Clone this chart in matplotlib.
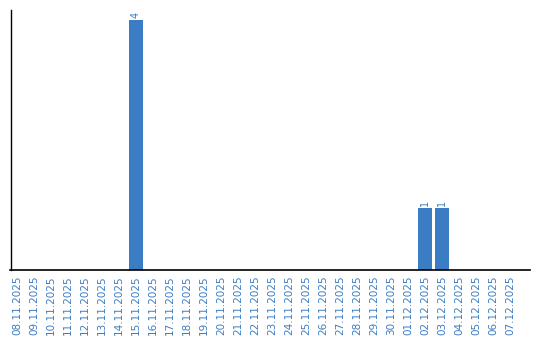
import matplotlib
matplotlib.use("Agg")
import matplotlib.pyplot as plt

dates = ["08.11.2025", "09.11.2025", "10.11.2025", "11.11.2025", "12.11.2025",
         "13.11.2025", "14.11.2025", "15.11.2025", "16.11.2025", "17.11.2025",
         "18.11.2025", "19.11.2025", "20.11.2025", "21.11.2025", "22.11.2025",
         "23.11.2025", "24.11.2025", "25.11.2025", "26.11.2025", "27.11.2025",
         "28.11.2025", "29.11.2025", "30.11.2025", "01.12.2025", "02.12.2025",
         "03.12.2025", "04.12.2025", "05.12.2025", "06.12.2025", "07.12.2025"]
counts = [0, 0, 0, 0, 0, 0, 0, 4, 0, 0,
          0, 0, 0, 0, 0, 0, 0, 0, 0, 0,
          0, 0, 0, 0, 1, 1, 0, 0, 0, 0]

blue = "#3b7dc4"

fig = plt.figure(figsize=(5.4, 3.4), dpi=100)
ax = fig.add_axes([10.5 / 540, 1 - 270 / 340, (530 - 10.5) / 540, 260 / 340])

x = list(range(len(dates)))
ax.bar(x, counts, width=0.82, color=blue)

for i, c in enumerate(counts):
    if c > 0:
        ax.text(i, c + 0.03, str(c), rotation=90, ha="center", va="bottom",
                color=blue, fontsize=7)

ax.set_xlim(-0.38, 30.18)
ax.set_ylim(0, 4.16)
ax.set_xticks(x)
ax.set_xticklabels(dates, rotation=90, fontsize=7.5, color=blue)
ax.tick_params(axis="x", length=0, pad=4)
ax.set_yticks([])
ax.spines["top"].set_visible(False)
ax.spines["right"].set_visible(False)
ax.spines["left"].set_linewidth(1)
ax.spines["bottom"].set_linewidth(1.2)

fig.savefig("out.png", dpi=100)
